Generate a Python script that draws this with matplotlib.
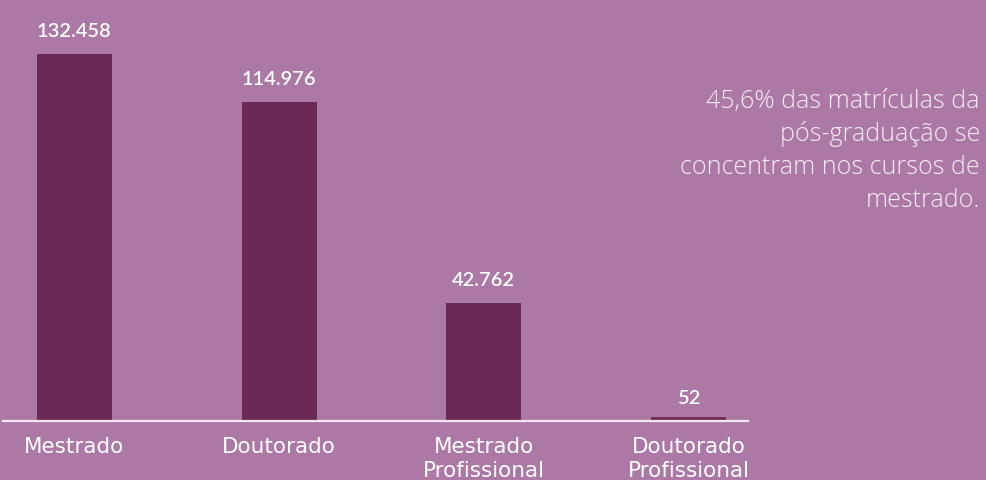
import matplotlib
matplotlib.use("Agg")
import matplotlib.pyplot as plt

categories = ["Mestrado", "Doutorado", "Mestrado\nProfissional", "Doutorado\nProfissional"]
values = [132458, 114976, 42762, 52]
value_labels = ["132.458", "114.976", "42.762", "52"]
note_lines = ["45,6% das matrículas da", "pós-graduação se",
              "concentram nos cursos de", "mestrado."]

BG = "#AC78A5"
BAR = "#6A2A55"
FG = "#FFFFFF"

W, H = 986, 481
DPI = 100
PX = 72 / DPI  # points per pixel

fig = plt.figure(figsize=(W / DPI, H / DPI), dpi=DPI, facecolor=BG)
ax = fig.add_axes([3 / W, 1 - 422 / H, 745 / W, 422 / H])
ax.set_facecolor(BG)

x = list(range(len(categories)))
bar_w = 0.366
bars = ax.bar(x, values, width=bar_w, color=BAR, zorder=2, linewidth=0)
ax.set_xlim(-0.349, 3.291)
ax.set_ylim(0, 152300)

# Keep very small bars visible: give them a same-coloured outline so they
# reach a minimum visible thickness above the baseline.
fig.canvas.draw()
min_px = 4
for rect in bars.patches:
    h_px = ax.transData.transform((0, rect.get_height()))[1] - ax.transData.transform((0, 0))[1]
    if h_px < min_px:
        grow = min_px - h_px
        rect.set_edgecolor(BAR)
        rect.set_linewidth(2 * grow * PX)
        rect.set_joinstyle("miter")

for s in ["top", "right", "left"]:
    ax.spines[s].set_visible(False)
ax.spines["bottom"].set_color("#F3E6F0")
ax.spines["bottom"].set_linewidth(1.6)
ax.spines["bottom"].set_zorder(3)
ax.set_yticks([])
ax.set_xticks(x)
ax.set_xticklabels(categories, fontsize=15.5, color=FG, family="DejaVu Sans",
                   linespacing=1.25)
ax.tick_params(axis="x", length=0, pad=11)

for xi, v, lab in zip(x, values, value_labels):
    ax.annotate(lab, (xi, v), xytext=(0, 18 * PX), textcoords="offset points",
                ha="center", va="baseline", color=FG, fontsize=14.5,
                family="Lato", fontweight="semibold")

baseline0 = 108
step = 33
for i, line in enumerate(note_lines):
    fig.text(980 / W, 1 - (baseline0 + i * step) / H, line, ha="right",
             va="baseline", color="#F6EEF4", fontsize=18, family="Open Sans",
             fontweight="light")

fig.savefig("out.png", dpi=DPI, facecolor=BG)
